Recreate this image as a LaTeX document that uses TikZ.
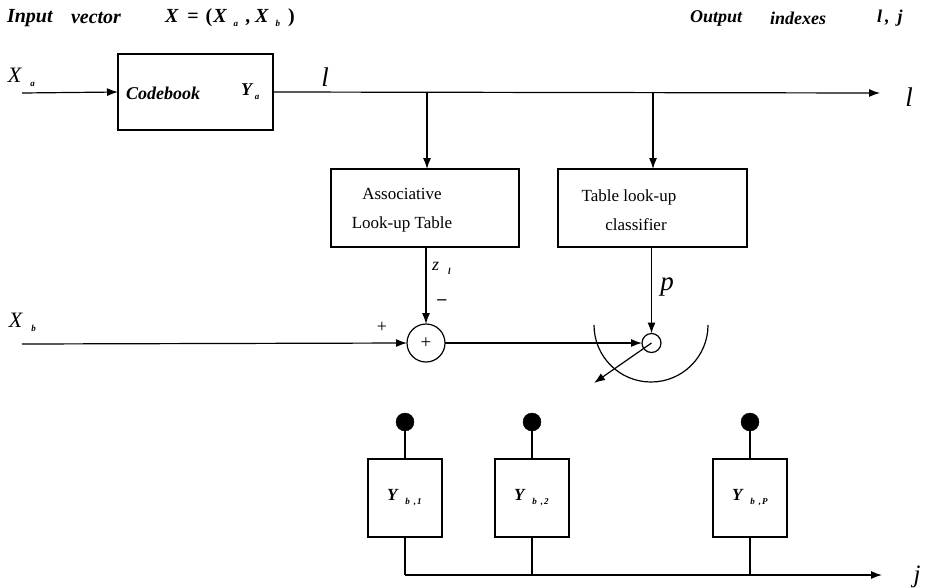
\documentclass[tikz,border=0pt]{standalone}
\usepackage{fontspec}
\setmainfont{Liberation Serif}
\usetikzlibrary{arrows.meta}
\newcommand{\sbs}[2][3pt]{\hspace{#1}\raisebox{-4pt}{\fontsize{9}{9}\selectfont\bfseries\itshape #2}}
\begin{document}
\begin{tikzpicture}[x=1pt,y=-1pt,
  every node/.style={inner sep=0pt,outer sep=0pt},
  line/.style={line width=1.2pt,draw=black},
  arr/.style={line width=1.2pt,-{Latex[length=11pt,width=8pt]}},
  blk/.style={draw,line width=1.2pt,rectangle},
  lbl/.style={font=\fontsize{18}{20}\selectfont\bfseries\itshape},
  hdr/.style={font=\fontsize{20}{22}\selectfont\bfseries\itshape},
  big/.style={font=\fontsize{27}{28}\selectfont\itshape},
  txt/.style={font=\fontsize{17}{29}\selectfont,align=center}]
\useasboundingbox (0,0) rectangle (925,587);
% header
\node[hdr,anchor=west] (hin) at (7,18) {Input};
\node[hdr,anchor=west] (hvec) at (71,18) {vector};
\node[hdr,anchor=west] (hx) at (165,18) {X\hspace{9pt}{\upshape =}\hspace{7pt}{\upshape (}\hspace{1pt}X\sbs[7pt]{a}\hspace{8pt},\hspace{4pt}X\sbs[7pt]{b}\hspace{8pt}{\upshape )}};
\node[lbl,anchor=west] (hout) at (690,18) {Output};
\node[lbl,anchor=west] (hidx) at (770,18) {indexes};
\node[lbl,anchor=west] (hlj) at (877,18) {l\hspace{3pt},\hspace{8pt}j};
% codebook
\node[blk,minimum width=155,minimum height=76] (cb) at (195.5,92) {};
\node[lbl,anchor=west] (cbt) at (126,93) {Codebook};
\node[lbl,anchor=west] (ya) at (241,92) {Y\sbs[3pt]{a}};
\node[font=\fontsize{22}{24}\selectfont\itshape,anchor=west] (xa) at (8,77) {X\sbs[9pt]{a}};
\coordinate (xain) at (22,93);
\draw[arr] (xain) -- (cb.west);
\coordinate (lend) at (880,93);
\draw[arr] (cb.east) -- (lend);
\node[big] (l1) at (325,77) {l};
\node[big] (l2) at (909,97) {l};
% middle boxes
\coordinate (j1) at (427,93);
\coordinate (j2) at (653,93);
\node[blk,minimum width=188,minimum height=78] (alt) at (425,208) {};
\node[txt] (altt) at (402,210) {Associative\\Look-up Table};
\node[blk,minimum width=189,minimum height=78] (cls) at (652.5,208) {};
\node[txt] (clst) at (629,210) {Table look-up\\\hspace*{14pt}classifier};
\draw[arr] (j1) -- (j1 |- alt.north);
\draw[arr] (j2) -- (j2 |- cls.north);
% sum
\node[draw,circle,line width=1.2pt,minimum size=38,font=\fontsize{19}{19}\selectfont] (sum) at (426,343) {+};
\node[draw,circle,line width=1.2pt,minimum size=19] (sw) at (651.5,343) {};
\draw[arr] (alt.south -| sum.north) -- (sum.north);
\node[font=\fontsize{18}{18}\selectfont\itshape,anchor=west] (zl) at (432,268) {z\sbs[9pt]{l}};
\node[font=\fontsize{18}{18}\selectfont] (minus) at (442,302) {\textbf{--}};
\node[font=\fontsize{18}{18}\selectfont] (plus) at (382,327) {+};
\node[font=\fontsize{22}{24}\selectfont\itshape,anchor=west] (xb) at (9,322) {X\sbs[9pt]{b}};
\coordinate (xbin) at (22,344);
\draw[arr] (xbin) -- (sum.west);
\draw[arr] (sum.east) -- (sw.west);
\draw[arr] (cls.south -| sw.north) -- (sw.north);
\node[font=\fontsize{27}{28}\selectfont\itshape] (p) at (667,287) {p};
% switch arc
\draw[line] (594,325) arc[start angle=180,end angle=0,radius=57];
\coordinate (swend) at (594,383);
\draw[arr] (sw.center) -- (swend);
% bottom
\foreach \n/\x/\s in {1/405/1,2/532/2,3/750/P}{
  \node[draw,circle,fill=black,minimum size=18] (d\n) at (\x,422) {};
  \node[blk,minimum width=74,minimum height=78] (yb\n) at (\x,498) {};
  \node[lbl,font=\fontsize{17}{18}\selectfont\bfseries\itshape,anchor=west] (ybt\n) at (\x-18,498) {Y\sbs[8pt]{b\hspace{4pt},\hspace{1pt}\s}};
  \draw[line] (d\n) -- (yb\n.north);
}
\coordinate (bl) at (405,575);
\coordinate (jend) at (882,575);
\draw[line] (yb1.south) -- (bl);
\draw[arr] (bl) -- (jend);
\draw[line] (yb2.south) -- (yb2.south |- bl);
\draw[line] (yb3.south) -- (yb3.south |- bl);
\node[font=\fontsize{25}{26}\selectfont\itshape] (j) at (917,577) {j};
\end{tikzpicture}
\end{document}
